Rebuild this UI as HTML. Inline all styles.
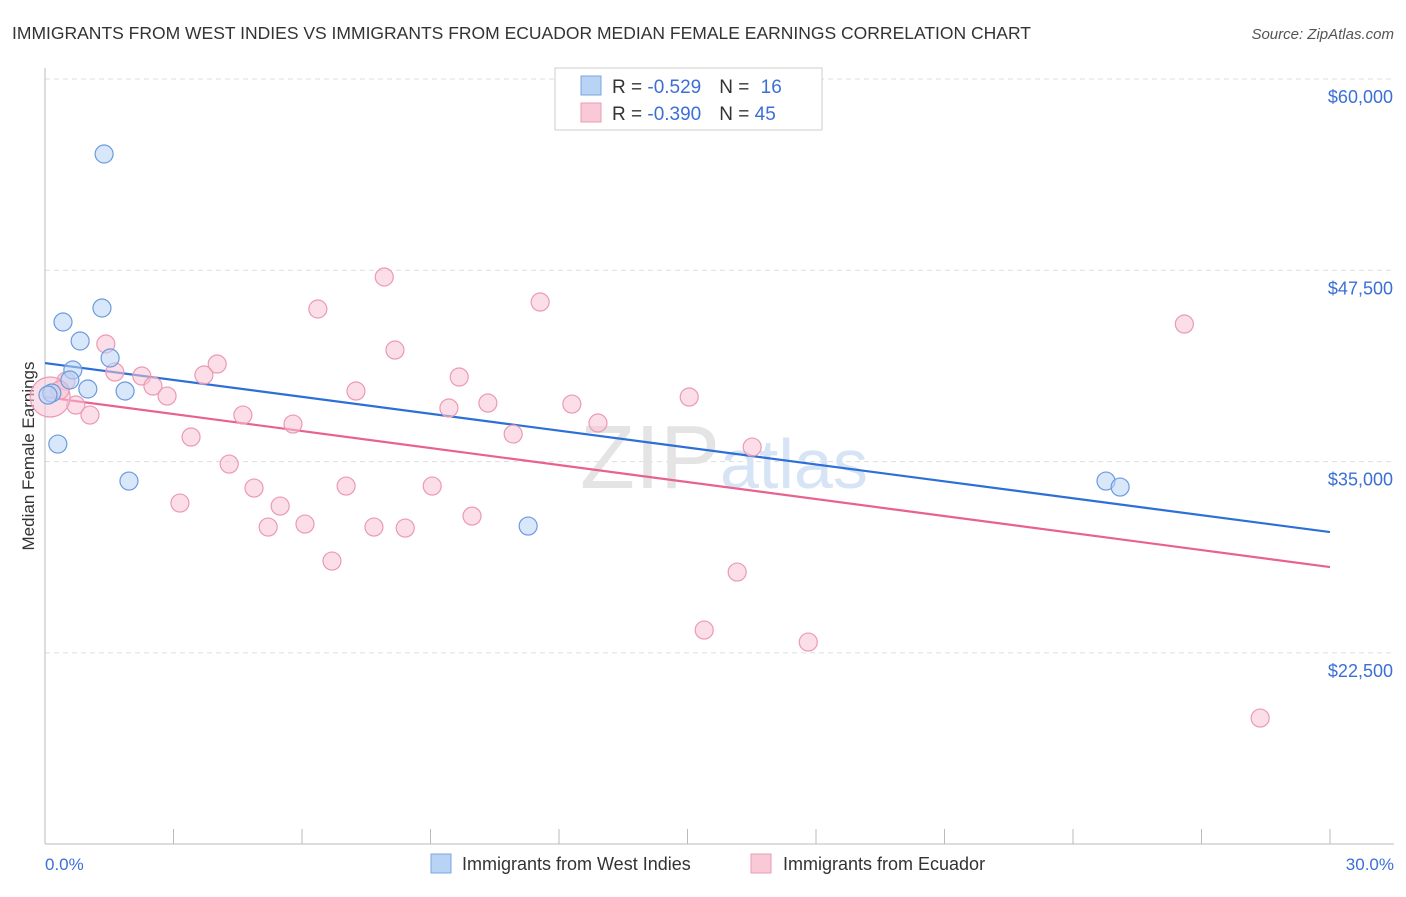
<!DOCTYPE html>
<html><head><meta charset="utf-8"><style>
body{margin:0;background:#fff;font-family:"Liberation Sans",sans-serif;}
svg text{font-family:"Liberation Sans",sans-serif;}
</style></head><body>
<svg width="1406" height="892" xmlns="http://www.w3.org/2000/svg">
<text x="12" y="39" font-size="17.5" fill="#333">IMMIGRANTS FROM WEST INDIES VS IMMIGRANTS FROM ECUADOR MEDIAN FEMALE EARNINGS CORRELATION CHART</text>
<text x="1394" y="39" font-size="15" fill="#555" font-style="italic" text-anchor="end">Source: ZipAtlas.com</text>
<g id="grid"></g>
<text x="720" y="488" font-size="90" fill="#e4e4e4" text-anchor="end" font-family="Liberation Serif">ZIP</text>
<text x="720" y="488" font-size="70" fill="#d6e4f5">atlas</text>
<line x1="45" y1="68" x2="45" y2="844" stroke="#bbb"/>
<line x1="45" y1="844" x2="1394" y2="844" stroke="#bbb"/>
<g id="ticks"></g>
<text transform="translate(34,456) rotate(-90)" font-size="17" fill="#333" text-anchor="middle">Median Female Earnings</text>
<text x="45" y="870" font-size="17" fill="#3b6fd6">0.0%</text>
<text x="1394" y="870" font-size="17" fill="#3b6fd6" text-anchor="end">30.0%</text>
<g id="lines"></g>
<g id="pts"></g>
<g>
<rect x="555" y="68" width="267" height="62" fill="#fff" stroke="#ccc"/>
<rect x="581" y="76" width="20" height="19" fill="#b9d3f5" stroke="#7aa6e3"/>
<rect x="581" y="103" width="20" height="19" fill="#f9c9d8" stroke="#eb9ab4"/>
<text x="612" y="93" font-size="19" fill="#333">R = <tspan fill="#3b6fd6">-0.529</tspan><tspan dx="18">N = </tspan><tspan fill="#3b6fd6" dx="6">16</tspan></text>
<text x="612" y="120" font-size="19" fill="#333">R = <tspan fill="#3b6fd6">-0.390</tspan><tspan dx="18">N = </tspan><tspan fill="#3b6fd6">45</tspan></text>
</g>
<g>
<rect x="431" y="854" width="20" height="19" fill="#b9d3f5" stroke="#7aa6e3"/>
<text x="462" y="870" font-size="18" fill="#333">Immigrants from West Indies</text>
<rect x="751" y="854" width="20" height="19" fill="#f9c9d8" stroke="#eb9ab4"/>
<text x="783" y="870" font-size="18" fill="#333">Immigrants from Ecuador</text>
</g>
</svg>
<script>
const yTicks=[60000,47500,35000,22500];
const yTickLabels=["$60,000","$47,500","$35,000","$22,500"];
const xTicks=[3,6,9,12,15,18,21,24,27,30];
const blueX=[1.38,0.42,1.33,0.82,1.52,0.65,0.58,1.00,1.87,0.16,0.30,1.96,11.28,24.77,25.10,0.07];
const blueY=[55099,44121,45036,42880,41769,40985,40331,39743,39612,39481,36147,33729,30789,33729,33337,39350];
const pinkX=[7.92,6.37,11.56,26.60,1.42,8.17,4.02,1.63,2.26,3.71,9.67,2.52,0.49,7.26,2.85,10.34,12.30,15.04,9.43,0.72,1.05,4.62,5.79,12.91,10.93,3.41,16.51,4.30,7.03,4.88,9.04,3.15,5.49,6.07,5.21,7.68,8.41,9.97,6.70,16.16,15.39,17.82,28.37,0.12,0.35];
const pinkY=[47061,44970,45427,43989,42683,42290,41375,40853,40591,40657,40526,39938,40265,39611,39284,38827,38761,39219,38500,38696,38042,38042,37454,37520,36801,36605,35951,34840,33402,33272,33402,32291,32095,30919,30723,30723,30658,31442,28501,27782,23992,23207,18241,39219,39677];
const blueTrend=[41440,30395];
const pinkTrend=[39219,28109];
const trendX=[0,30];
const NS="http://www.w3.org/2000/svg";
const X=p=>45+p/30*1285;
const Y=v=>79+(60000-v)/12500*191.3;
function mk(tag,attrs,parent){const e=document.createElementNS(NS,tag);for(const k in attrs)e.setAttribute(k,attrs[k]);document.getElementById(parent).appendChild(e);return e;}
yTicks.forEach((v,i)=>{
 const l=mk('line',{x1:45,x2:1394,y1:Y(v),y2:Y(v),stroke:'#ddd','stroke-dasharray':'5,4'},'grid');
 
 
 const t=mk('text',{x:1393,y:Y(v)+24,'font-size':18,fill:'#3b6fd6','text-anchor':'end'},'grid');
 t.textContent=yTickLabels[i];
 
 
});
xTicks.forEach(p=>{
 const l=mk('line',{x1:X(p),x2:X(p),y1:829,y2:844,stroke:'#bbb'},'ticks');
 
 
});
function pts(xs,ys,fill,stroke,name){
 xs.forEach((x,i)=>{
  const big=(name==='pink-point'&&i===43);
  const c=mk('circle',{cx:X(x),cy:Y(ys[i]),r:big?20:9,fill:fill,'fill-opacity':0.55,stroke:stroke,'stroke-width':1.2},'pts');
  
  
 });
}
pts(pinkX,pinkY,'#f7c3d3','#eb9ab4','pink-point');
pts(blueX,blueY,'#b9d3f5','#6b9be0','blue-point');
const bl=mk('line',{x1:X(trendX[0]),y1:Y(blueTrend[0]),x2:X(trendX[1]),y2:Y(blueTrend[1]),stroke:'#2c6fd6','stroke-width':2.2},'lines');


const pl=mk('line',{x1:X(trendX[0]),y1:Y(pinkTrend[0]),x2:X(trendX[1]),y2:Y(pinkTrend[1]),stroke:'#e8628f','stroke-width':2.2},'lines');


</script>
</body></html>
